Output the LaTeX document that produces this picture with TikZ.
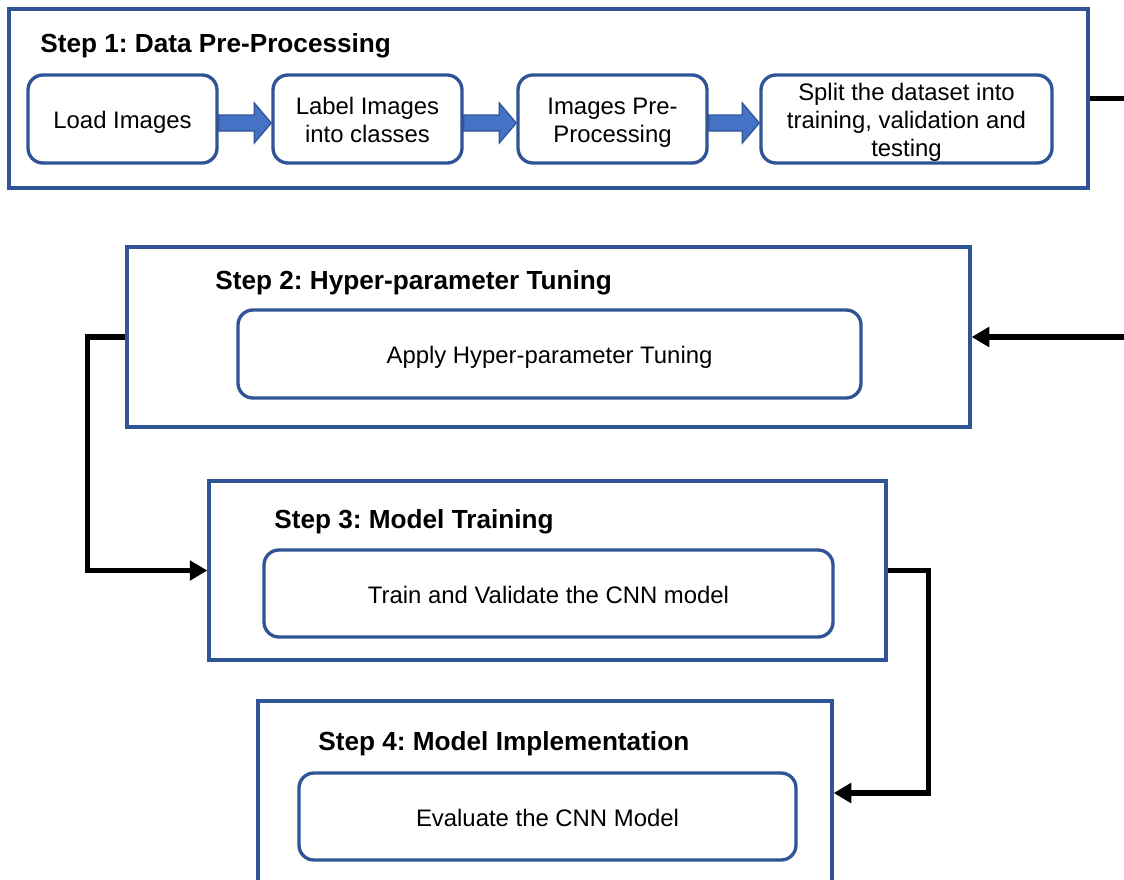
\documentclass[tikz,border=0pt]{standalone}
\usepackage{fontspec}
\setmainfont{Liberation Sans}
\usetikzlibrary{arrows.meta,calc}
\definecolor{bordblue}{RGB}{47,85,151}
\definecolor{fillblue}{RGB}{68,114,196}
\def\px{0.02cm}
\frenchspacing
\newcommand\boxtext[1]{\raisebox{-0.08cm}[\height][\depth]{\begin{tabular}{@{}c@{}}#1\end{tabular}}}
\tikzset{
  outerbox/.style={draw=bordblue, line width=1.9pt, rectangle, inner sep=0pt},
  innerbox/.style={draw=bordblue, line width=1.9pt, rectangle, rounded corners=8.5pt,
     align=center, inner sep=0pt, font=\fontsize{13.6}{15.9}\selectfont},
  heading/.style={anchor=west, inner sep=0pt, font=\fontsize{14.9}{17}\selectfont\bfseries},
  conn/.style={line width=3pt, black},
  connarrow/.style={conn, -{Triangle[length=10pt,width=11pt]}},
  fatarr/.style={fill=fillblue, draw=bordblue, line width=0.7pt, line join=miter},
}
\newcommand\fatarrow[2]{%
  \path[fatarr] ($(#1.east)+(0,-4)$) -- ($(#2.west)+(-17,-4)$) -- ($(#2.west)+(-17,-16)$)
     -- ($(#2.west)+(0,4)$) -- ($(#2.west)+(-17,24)$) -- ($(#2.west)+(-17,12)$)
     -- ($(#1.east)+(0,12)$) -- cycle;}
\begin{document}
\begin{tikzpicture}[x=0.02cm,y=-0.02cm]
\clip (0,0) rectangle (1124,879);
\fill[white] (0,0) rectangle (1124,879);

% Step 1
\node[outerbox, minimum width=1079*\px, minimum height=179*\px] (S1) at (548.5,98.5) {};
\node[heading] (h1) at (40,46) {Step 1: Data Pre-Processing};
\node[innerbox, minimum width=189*\px, minimum height=88*\px] (b1) at (122.5,119) {\boxtext{Load Images}};
\node[innerbox, minimum width=189*\px, minimum height=88*\px] (b2) at (367.5,119) {\boxtext{Label Images\\into classes}};
\node[innerbox, minimum width=189*\px, minimum height=88*\px] (b3) at (612.5,119) {\boxtext{Images Pre-\\Processing}};
\node[innerbox, minimum width=291*\px, minimum height=88*\px] (b4) at (906.5,119) {\boxtext{Split the dataset into\\training, validation and\\testing}};
\fatarrow{b1}{b2}
\fatarrow{b2}{b3}
\fatarrow{b3}{b4}

% Step 2
\node[outerbox, minimum width=843*\px, minimum height=180*\px] (S2) at (548.5,337) {};
\node[heading] (h2) at (215,283) {Step 2: Hyper-parameter Tuning};
\node[innerbox, minimum width=623*\px, minimum height=88*\px] (i2) at (549.5,354) {\boxtext{Apply Hyper-parameter Tuning}};

% Step 3
\node[outerbox, minimum width=677*\px, minimum height=179*\px] (S3) at (547.5,570.5) {};
\node[heading] (h3) at (274,522) {Step 3: Model Training};
\node[innerbox, minimum width=569*\px, minimum height=87*\px] (i3) at (548.5,593.5) {\boxtext{Train and Validate the CNN model}};

% Step 4
\node[outerbox, minimum width=574*\px, minimum height=184*\px] (S4) at (545,793) {};
\node[heading] (h4) at (318,744) {Step 4: Model Implementation};
\node[innerbox, minimum width=497*\px, minimum height=87*\px] (i4) at (547.5,816.5) {\boxtext{Evaluate the CNN Model}};

% connectors
\coordinate (e1) at (1130,98.5);
\coordinate (e2) at (1130,337);
\draw[conn] (S1.east) -- (e1);
\draw[connarrow] (e2) -- (S2.east);
\draw[connarrow, line join=miter] (S2.west) -- ++(-38,0) |- (S3.west);
\draw[connarrow, line join=miter] (S3.east) -- ++(41,0) |- (S4.east);
\end{tikzpicture}
\end{document}
